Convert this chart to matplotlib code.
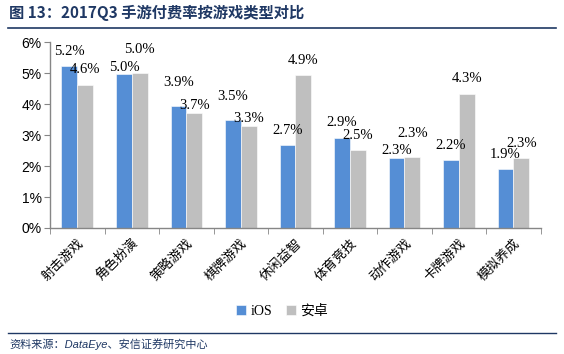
import matplotlib.pyplot as plt
import numpy as np
from matplotlib.ticker import FuncFormatter
from matplotlib.lines import Line2D

plt.rcParams['font.family'] = ['Noto Sans CJK SC', 'DejaVu Sans']

# 数据
categories = ['射击游戏', '角色扮演', '策略游戏', '棋牌游戏', '休闲益智',
              '体育竞技', '动作游戏', '卡牌游戏', '模拟养成']
ios = [5.22, 4.97, 3.93, 3.48, 2.68, 2.92, 2.27, 2.2, 1.9]
android = [4.63, 5.0, 3.72, 3.3, 4.93, 2.52, 2.3, 4.34, 2.27]
series_names = ['iOS', '安卓']

title = '图 13：2017Q3 手游付费率按游戏类型对比'
source = '资料来源：DataEye、安信证券研究中心'

c_ios = '#558ED5'
c_and = '#BFBFBF'
navy = '#1F3864'
axis_gray = '#868686'

fig = plt.figure(figsize=(5.64, 3.54), dpi=100)
ax = fig.add_axes([0.0887, 0.356, 0.870, 0.525])

x = np.arange(len(categories))
w = 0.29
b1 = ax.bar(x - w / 2, ios, w, color=c_ios, edgecolor='white', linewidth=0.4, label=series_names[0])
b2 = ax.bar(x + w / 2, android, w, color=c_and, edgecolor='white', linewidth=0.4, label=series_names[1])

# 数据标签（两柱接近时错开，避免重叠）
for i in range(len(categories)):
    pair = [(b1[i], ios[i]), (b2[i], android[i])]
    close = abs(ios[i] - android[i]) < 0.3
    for rect, v in pair:
        off = 10.5
        if close:
            off = 17 if v >= max(ios[i], android[i]) else 5
        ax.annotate(f'{v:.1f}%', (rect.get_x() + rect.get_width() / 2, rect.get_height()),
                    xytext=(0, off), textcoords='offset points', ha='center', va='center',
                    fontsize=10.5, family='Liberation Serif')

ax.set_xlim(-0.5, len(categories) - 0.5)
ax.set_ylim(0, 6)
ax.set_yticks(range(0, 7))
ax.yaxis.set_major_formatter(FuncFormatter(lambda v, p: f'{v:.0f}%'))
for lab in ax.get_yticklabels():
    lab.set_family('Liberation Sans')
    lab.set_fontsize(10)

ax.set_xticks(x)
ax.set_xticklabels(categories, rotation=45, ha='right', rotation_mode='anchor', fontsize=9.5)
ax.tick_params(axis='x', length=0, pad=6)
ax.set_xticks(np.arange(-0.5, len(categories)), minor=True)
ax.tick_params(axis='x', which='minor', length=4, color=axis_gray, direction='out')
ax.tick_params(axis='y', length=4, color=axis_gray, direction='out', pad=2)

for s in ['top', 'right']:
    ax.spines[s].set_visible(False)
for s in ['left', 'bottom']:
    ax.spines[s].set_color(axis_gray)
    ax.spines[s].set_linewidth(1)

leg = fig.legend(handles=[b1, b2], loc='center', bbox_to_anchor=(0.5, 0.12), ncol=2,
                 frameon=False, fontsize=10, handlelength=0.7, handleheight=0.7,
                 handletextpad=0.3, columnspacing=1.0)
for t in leg.get_texts():
    t.set_family(['Liberation Serif', 'Noto Sans CJK SC'])

# 标题与来源
fig.text(0.016, 0.963, title, fontsize=11, fontweight='bold', color=navy, va='center', ha='left')
fig.add_artist(Line2D([0.014, 0.986], [0.921, 0.921], color=navy, linewidth=1.2))
fig.add_artist(Line2D([0.014, 0.986], [0.059, 0.059], color=navy, linewidth=1.0))
fig.text(0.016, 0.027, source, fontsize=8, style='italic', color=navy, va='center', ha='left',
         family=['Liberation Sans', 'Noto Sans CJK SC'])

fig.savefig('out.png', dpi=100)
